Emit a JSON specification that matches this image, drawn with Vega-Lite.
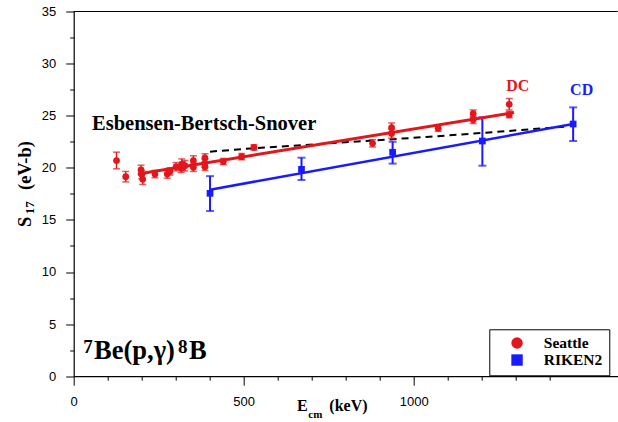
{
  "$schema": "https://vega.github.io/schema/vega-lite/v6.json",
  "width": 544,
  "height": 364.7,
  "autosize": {"type": "none"},
  "padding": {"left": 73.7, "top": 11.5, "right": 0, "bottom": 46},
  "config": {
    "view": {"stroke": null},
    "font": "Liberation Sans",
    "axis": {"labelOverlap": false},
    "legend": {
      "orient": "none",
      "legendX": 415.6,
      "legendY": 317.8,
      "strokeColor": "black",
      "strokeWidth": 1,
      "fillColor": "white",
      "padding": 6,
      "labelFont": "Liberation Serif",
      "labelFontWeight": "bold",
      "labelFontSize": 15.5,
      "labelColor": "black",
      "symbolSize": 130,
      "symbolStrokeWidth": 0,
      "symbolOffset": 14,
      "labelOffset": 19,
      "rowPadding": 0,
      "title": null
    }
  },
  "resolve": {"axis": {"x": "independent", "y": "independent"}},
  "datasets": {
    "pts": [
      {"set": "Seattle", "E": 126, "S": 20.7, "lo": 19.9, "hi": 21.5},
      {"set": "Seattle", "E": 153, "S": 19.15, "lo": 18.65, "hi": 19.65},
      {"set": "Seattle", "E": 198, "S": 19.8, "lo": 19.35, "hi": 20.25},
      {"set": "Seattle", "E": 200, "S": 19.35, "lo": 18.95, "hi": 19.75},
      {"set": "Seattle", "E": 203, "S": 18.9, "lo": 18.4, "hi": 19.4},
      {"set": "Seattle", "E": 239, "S": 19.4, "lo": 19.05, "hi": 19.75},
      {"set": "Seattle", "E": 275, "S": 19.4, "lo": 19.0, "hi": 19.8},
      {"set": "Seattle", "E": 283, "S": 19.65, "lo": 19.3, "hi": 20.0},
      {"set": "Seattle", "E": 301, "S": 20.1, "lo": 19.7, "hi": 20.5},
      {"set": "Seattle", "E": 316, "S": 19.95, "lo": 19.55, "hi": 20.35},
      {"set": "Seattle", "E": 318, "S": 20.35, "lo": 19.85, "hi": 20.85},
      {"set": "Seattle", "E": 327, "S": 20.2, "lo": 19.7, "hi": 20.7},
      {"set": "Seattle", "E": 352, "S": 20.7, "lo": 20.25, "hi": 21.15},
      {"set": "Seattle", "E": 352, "S": 20.05, "lo": 19.65, "hi": 20.45},
      {"set": "Seattle", "E": 386, "S": 20.95, "lo": 20.55, "hi": 21.35},
      {"set": "Seattle", "E": 386, "S": 20.45, "lo": 20.05, "hi": 20.85},
      {"set": "Seattle", "E": 386, "S": 20.1, "lo": 19.75, "hi": 20.45},
      {"set": "Seattle", "E": 440, "S": 20.6, "lo": 20.3, "hi": 20.9},
      {"set": "Seattle", "E": 494, "S": 21.07, "lo": 20.77, "hi": 21.37},
      {"set": "Seattle", "E": 530, "S": 21.95, "lo": 21.7, "hi": 22.2},
      {"set": "Seattle", "E": 879, "S": 22.35, "lo": 22.0, "hi": 22.7},
      {"set": "Seattle", "E": 935, "S": 23.85, "lo": 23.4, "hi": 24.3},
      {"set": "Seattle", "E": 935, "S": 23.3, "lo": 22.85, "hi": 23.75},
      {"set": "Seattle", "E": 1072, "S": 23.8, "lo": 23.5, "hi": 24.1},
      {"set": "Seattle", "E": 1175, "S": 25.2, "lo": 24.85, "hi": 25.55},
      {"set": "Seattle", "E": 1175, "S": 24.6, "lo": 24.25, "hi": 24.95},
      {"set": "Seattle", "E": 1281, "S": 26.1, "lo": 25.55, "hi": 26.65},
      {"set": "Seattle", "E": 1281, "S": 25.1, "lo": 24.8, "hi": 25.4},
      {"set": "RIKEN2", "E": 401, "S": 17.55, "lo": 15.85, "hi": 19.2},
      {"set": "RIKEN2", "E": 670, "S": 19.85, "lo": 18.83, "hi": 20.97},
      {"set": "RIKEN2", "E": 938, "S": 21.49, "lo": 20.4, "hi": 22.5},
      {"set": "RIKEN2", "E": 1202, "S": 22.57, "lo": 20.2, "hi": 24.85},
      {"set": "RIKEN2", "E": 1469, "S": 24.2, "lo": 22.57, "hi": 25.8}
    ],
    "fits": [
      {"fit": "DC", "E": 189, "S": 19.4},
      {"fit": "DC", "E": 1295, "S": 25.3},
      {"fit": "CD", "E": 401, "S": 17.9},
      {"fit": "CD", "E": 1469, "S": 24.2},
      {"fit": "EBS", "E": 401, "S": 21.55},
      {"fit": "EBS", "E": 520, "S": 21.85},
      {"fit": "EBS", "E": 1048, "S": 22.98},
      {"fit": "EBS", "E": 1450, "S": 23.95}
    ],
    "labels": [
      {"t": "Esbensen-Bertsch-Snover", "E": 54, "S": 23.63, "k": "ebs"},
      {"t": "DC", "E": 1306, "S": 27.37, "k": "dc"},
      {"t": "CD", "E": 1494, "S": 26.94, "k": "cd"},
      {"t": "7", "E": 28, "S": 2.19, "k": "sup"},
      {"t": "Be(p,γ)", "E": 60, "S": 1.65, "k": "big"},
      {"t": "8", "E": 307, "S": 2.19, "k": "sup"},
      {"t": "B", "E": 339, "S": 1.65, "k": "big"},
      {"t": "E", "E": 657, "S": -3.31, "k": "xt"},
      {"t": "cm", "E": 690, "S": -4.0, "k": "xsub"},
      {"t": "(keV)", "E": 752, "S": -3.31, "k": "xt"},
      {"t": "S", "E": -125.6, "S": 14.32, "k": "yt"},
      {"t": "17", "E": -116.8, "S": 15.55, "k": "ysub"},
      {"t": "(eV-b)", "E": -125.6, "S": 17.87, "k": "yt"}
    ]
  },
  "layer": [
    {
      "data": {"values": [{"S": 35}]},
      "mark": {"type": "rule", "color": "black", "strokeWidth": 1.2},
      "encoding": {
        "y": {"field": "S", "type": "quantitative", "axis": null}
      }
    },
    {
      "data": {"name": "fits"},
      "transform": [{"filter": "datum.fit === 'EBS'"}],
      "mark": {"type": "line", "color": "black", "strokeWidth": 2, "strokeDash": [7, 5]},
      "encoding": {
        "x": {
          "field": "E", "type": "quantitative",
          "axis": {
            "orient": "bottom", "title": null,
            "values": [100, 200, 300, 400, 600, 700, 800, 900, 1100, 1200, 1300, 1400],
            "labels": false, "domain": false, "grid": false,
            "tickColor": "black", "tickWidth": 1, "tickSize": 4
          }
        },
        "y": {
          "field": "S", "type": "quantitative",
          "axis": {
            "orient": "left", "title": null,
            "values": [2.5, 7.5, 12.5, 17.5, 22.5, 27.5, 32.5],
            "labels": false, "domain": false, "grid": false,
            "tickColor": "black", "tickWidth": 1, "tickSize": 4
          }
        }
      }
    },
    {
      "data": {"name": "fits"},
      "transform": [{"filter": "datum.fit === 'CD'"}],
      "mark": {"type": "line", "color": "#1a1aff", "strokeWidth": 2.5},
      "encoding": {
        "x": {"field": "E", "type": "quantitative", "axis": null},
        "y": {"field": "S", "type": "quantitative", "axis": null}
      }
    },
    {
      "data": {"name": "pts"},
      "transform": [{"filter": "datum.set === 'Seattle'"}],
      "mark": {"type": "errorbar", "color": "#e3161b", "thickness": 1.5, "ticks": {"size": 7, "thickness": 1.5, "color": "#e3161b"}},
      "encoding": {
        "x": {"field": "E", "type": "quantitative", "axis": null},
        "y": {"field": "lo", "type": "quantitative", "axis": null},
        "y2": {"field": "hi"}
      }
    },
    {
      "data": {"name": "pts"},
      "transform": [{"filter": "datum.set === 'RIKEN2'"}],
      "mark": {"type": "errorbar", "color": "#1a1aff", "thickness": 2, "ticks": {"size": 8, "thickness": 2, "color": "#1a1aff"}},
      "encoding": {
        "x": {"field": "E", "type": "quantitative", "axis": null},
        "y": {"field": "lo", "type": "quantitative", "axis": null},
        "y2": {"field": "hi"}
      }
    },
    {
      "data": {"name": "fits"},
      "transform": [{"filter": "datum.fit === 'DC'"}],
      "mark": {"type": "line", "color": "#e3161b", "strokeWidth": 3},
      "encoding": {
        "x": {"field": "E", "type": "quantitative", "axis": null},
        "y": {"field": "S", "type": "quantitative", "axis": null}
      }
    },
    {
      "data": {"name": "pts"},
      "mark": {"type": "point", "filled": true, "opacity": 1, "size": 45},
      "encoding": {
        "x": {
          "field": "E", "type": "quantitative",
          "scale": {"domain": [0, 1600], "nice": false, "zero": false},
          "axis": {
            "orient": "bottom", "title": null,
            "values": [0, 500, 1000],
            "format": "d",
            "labelFlush": false,
            "labelOverlap": false,
            "labelFont": "Liberation Sans",
            "labelFontSize": 13,
            "labelColor": "black",
            "labelPadding": 10,
            "tickColor": "black",
            "tickWidth": 1,
            "tickSize": 9,
            "domainColor": "black",
            "domainWidth": 1.2,
            "grid": false
          }
        },
        "y": {
          "field": "S", "type": "quantitative",
          "scale": {"domain": [0, 35], "nice": false, "zero": false},
          "axis": {
            "orient": "left", "title": null,
            "values": [0, 5, 10, 15, 20, 25, 30, 35],
            "labelOverlap": false,
            "labelFlush": false,
            "labelFont": "Liberation Sans",
            "labelFontSize": 13,
            "labelColor": "black",
            "labelPadding": 10,
            "tickColor": "black",
            "tickWidth": 1,
            "tickSize": 8,
            "domainColor": "black",
            "domainWidth": 1.2,
            "grid": false
          }
        },
        "color": {
          "field": "set", "type": "nominal",
          "scale": {"domain": ["Seattle", "RIKEN2"], "range": ["#e3161b", "#1a1aff"]}
        },
        "shape": {
          "field": "set", "type": "nominal",
          "scale": {"domain": ["Seattle", "RIKEN2"], "range": ["circle", "square"]}
        }
      }
    },
    {
      "data": {"name": "labels"},
      "transform": [{"filter": "datum.k === 'ebs'"}],
      "mark": {"type": "text", "font": "Liberation Serif", "fontWeight": "bold", "fontSize": 20.5, "align": "left", "baseline": "alphabetic", "color": "black"},
      "encoding": {
        "x": {"field": "E", "type": "quantitative", "axis": null},
        "y": {"field": "S", "type": "quantitative", "axis": null},
        "text": {"field": "t"}
      }
    },
    {
      "data": {"name": "labels"},
      "transform": [{"filter": "datum.k === 'dc'"}],
      "mark": {"type": "text", "font": "Liberation Serif", "fontWeight": "bold", "fontSize": 16, "align": "center", "baseline": "alphabetic", "color": "#e3161b"},
      "encoding": {
        "x": {"field": "E", "type": "quantitative", "axis": null},
        "y": {"field": "S", "type": "quantitative", "axis": null},
        "text": {"field": "t"}
      }
    },
    {
      "data": {"name": "labels"},
      "transform": [{"filter": "datum.k === 'cd'"}],
      "mark": {"type": "text", "font": "Liberation Serif", "fontWeight": "bold", "fontSize": 16, "align": "center", "baseline": "alphabetic", "color": "#1a1aff"},
      "encoding": {
        "x": {"field": "E", "type": "quantitative", "axis": null},
        "y": {"field": "S", "type": "quantitative", "axis": null},
        "text": {"field": "t"}
      }
    },
    {
      "data": {"name": "labels"},
      "transform": [{"filter": "datum.k === 'sup'"}],
      "mark": {"type": "text", "font": "Liberation Serif", "fontWeight": "bold", "fontSize": 19, "align": "left", "baseline": "alphabetic", "color": "black"},
      "encoding": {
        "x": {"field": "E", "type": "quantitative", "axis": null},
        "y": {"field": "S", "type": "quantitative", "axis": null},
        "text": {"field": "t"}
      }
    },
    {
      "data": {"name": "labels"},
      "transform": [{"filter": "datum.k === 'big'"}],
      "mark": {"type": "text", "font": "Liberation Serif", "fontWeight": "bold", "fontSize": 26.5, "align": "left", "baseline": "alphabetic", "color": "black"},
      "encoding": {
        "x": {"field": "E", "type": "quantitative", "axis": null},
        "y": {"field": "S", "type": "quantitative", "axis": null},
        "text": {"field": "t"}
      }
    },
    {
      "data": {"name": "labels"},
      "transform": [{"filter": "datum.k === 'xt'"}],
      "mark": {"type": "text", "font": "Liberation Serif", "fontWeight": "bold", "fontSize": 16, "align": "left", "baseline": "alphabetic", "color": "black"},
      "encoding": {
        "x": {"field": "E", "type": "quantitative", "axis": null},
        "y": {"field": "S", "type": "quantitative", "axis": null},
        "text": {"field": "t"}
      }
    },
    {
      "data": {"name": "labels"},
      "transform": [{"filter": "datum.k === 'xsub'"}],
      "mark": {"type": "text", "font": "Liberation Serif", "fontWeight": "bold", "fontSize": 11, "align": "left", "baseline": "alphabetic", "color": "black"},
      "encoding": {
        "x": {"field": "E", "type": "quantitative", "axis": null},
        "y": {"field": "S", "type": "quantitative", "axis": null},
        "text": {"field": "t"}
      }
    },
    {
      "data": {"name": "labels"},
      "transform": [{"filter": "datum.k === 'yt'"}],
      "mark": {"type": "text", "font": "Liberation Serif", "fontWeight": "bold", "fontSize": 18.5, "align": "left", "baseline": "alphabetic", "angle": 270, "color": "black"},
      "encoding": {
        "x": {"field": "E", "type": "quantitative", "axis": null},
        "y": {"field": "S", "type": "quantitative", "axis": null},
        "text": {"field": "t"}
      }
    },
    {
      "data": {"name": "labels"},
      "transform": [{"filter": "datum.k === 'ysub'"}],
      "mark": {"type": "text", "font": "Liberation Serif", "fontWeight": "bold", "fontSize": 13, "align": "left", "baseline": "alphabetic", "angle": 270, "color": "black"},
      "encoding": {
        "x": {"field": "E", "type": "quantitative", "axis": null},
        "y": {"field": "S", "type": "quantitative", "axis": null},
        "text": {"field": "t"}
      }
    }
  ]
}
